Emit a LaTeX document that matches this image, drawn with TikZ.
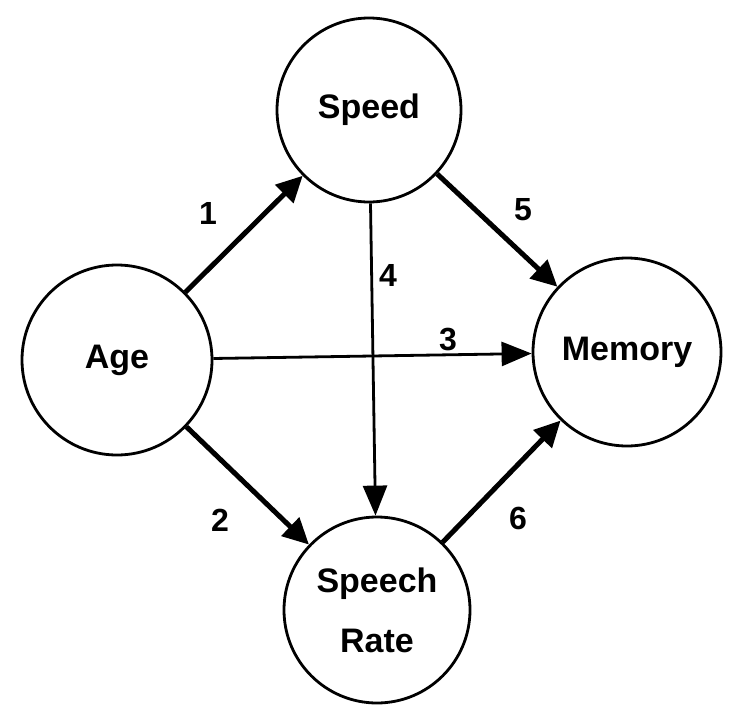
\documentclass[tikz,border=0pt]{standalone}
\usepackage{fontspec}
\setmainfont{Liberation Sans}
\usetikzlibrary{arrows.meta}
\begin{document}
\begin{tikzpicture}[x=1pt,y=-1pt,
  var/.style={circle,draw,line width=2.8pt,inner sep=0pt,align=center,
    font=\fontsize{34}{60}\selectfont\bfseries},
  strong/.style={line width=5pt,-{Triangle[length=26pt,width=25pt]}},
  weak/.style={line width=2.8pt,-{Triangle[length=30pt,width=24pt]}},
  num/.style={font=\fontsize{32}{38}\selectfont\bfseries,inner sep=0pt}]
\useasboundingbox (0,0) rectangle (729,715);
% the four variables
\node[var,minimum size=184pt] (speed) at (369,110) {Speed};
\node[var,minimum size=190pt] (age) at (117,360) {Age};
\node[var,minimum size=188pt] (memory) at (627,352) {Memory};
\node[var,minimum size=186pt] (rate) at (377,610) {Speech\\Rate};
% paths
\draw[strong] (age) -- (speed);
\draw[strong] (age) -- (rate);
\draw[weak] (age) -- (memory);
\draw[weak] (speed) -- (rate);
\draw[strong] (speed) -- (memory);
\draw[strong] (rate) -- (memory);
% path numbers
\node[num] (l1) at (208,213) {1};
\node[num] (l2) at (220,520) {2};
\node[num] (l3) at (448,340) {3};
\node[num] (l4) at (388,275) {4};
\node[num] (l5) at (523,210) {5};
\node[num] (l6) at (518,518) {6};
\end{tikzpicture}
\end{document}
